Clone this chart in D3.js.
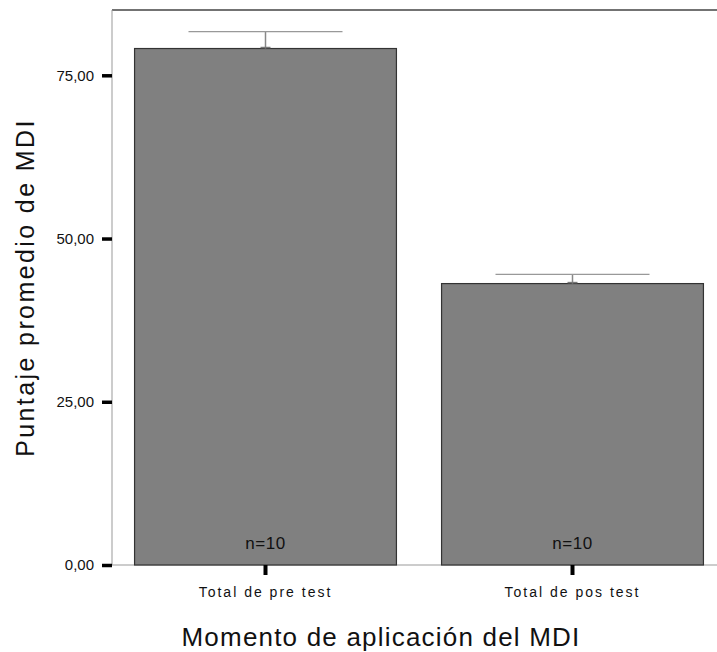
<!DOCTYPE html>
<html>
<head>
<meta charset="utf-8">
<script src="https://cdn.jsdelivr.net/npm/d3@7"></script>
<style>
  body { margin: 0; background: #fff; }
  svg { display: block; font-family: "Liberation Sans", Arial, sans-serif; }
</style>
</head>
<body>
<svg id="chart"></svg>
<script>
// datos
const categories = ['Total de pre test', 'Total de pos test'];
const means = [79.1, 43.1];
const upper = [81.7, 44.5];
const counts = [10, 10];
const yTicks = [0, 25, 50, 75];

const width = 717, height = 652;
const margin = { top: 10, right: -9, bottom: 87, left: 112 };

const svg = d3.select('#chart').attr('width', width).attr('height', height);

const x = d3.scaleBand()
  .domain(categories)
  .range([margin.left, width - margin.right])
  .paddingInner(0.147)
  .paddingOuter(0.0735);

const y = d3.scaleLinear()
  .domain([0, 85])
  .range([height - margin.bottom, margin.top]);

const y0 = y(0);

// marco
svg.append('line')
  .attr('x1', margin.left).attr('x2', width)
  .attr('y1', margin.top).attr('y2', margin.top)
  .attr('stroke', '#444').attr('stroke-width', 1.5);
svg.append('line')
  .attr('x1', margin.left).attr('x2', margin.left)
  .attr('y1', margin.top).attr('y2', y0)
  .attr('stroke', '#999').attr('stroke-width', 1);
svg.append('line')
  .attr('x1', margin.left).attr('x2', width)
  .attr('y1', y0).attr('y2', y0)
  .attr('stroke', '#999').attr('stroke-width', 1);

// barras
svg.append('g')
  .selectAll('rect')
  .data(means)
  .enter()
  .append('rect')
  .attr('x', (_, i) => x(categories[i]))
  .attr('y', d => y(d))
  .attr('width', x.bandwidth())
  .attr('height', d => y0 - y(d))
  .attr('fill', '#808080')
  .attr('stroke', '#333')
  .attr('stroke-width', 1.2);

// barras de error
const cx = i => x(categories[i]) + x.bandwidth() / 2;
const err = svg.append('g');
means.forEach((m, i) => {
  err.append('line')
    .attr('x1', cx(i)).attr('x2', cx(i))
    .attr('y1', y(m)).attr('y2', y(upper[i]))
    .attr('stroke', '#888').attr('stroke-width', 1.5);
  err.append('line')
    .attr('x1', cx(i) - 77).attr('x2', cx(i) + 77)
    .attr('y1', y(upper[i])).attr('y2', y(upper[i]))
    .attr('stroke', '#999').attr('stroke-width', 1.2);
  err.append('line')
    .attr('x1', cx(i) - 5).attr('x2', cx(i) + 5)
    .attr('y1', y(m) - 1).attr('y2', y(m) - 1)
    .attr('stroke', '#777').attr('stroke-width', 1.5);
});

// n dentro de la barra
svg.append('g')
  .selectAll('text')
  .data(counts)
  .enter()
  .append('text')
  .attr('x', (_, i) => cx(i))
  .attr('y', y0 - 16)
  .attr('text-anchor', 'middle')
  .attr('font-size', 17)
  .attr('letter-spacing', 0.5)
  .attr('fill', '#111')
  .text(d => 'n=' + d);

// eje y
const fmt = d => d3.format('.2f')(d).replace('.', ',');
const yAxis = svg.append('g')
  .attr('transform', `translate(${margin.left},0)`)
  .call(d3.axisLeft(y).tickValues(yTicks).tickFormat(fmt).tickSize(10).tickPadding(8));
yAxis.select('.domain').remove();
yAxis.selectAll('line').attr('stroke', '#000').attr('stroke-width', 3.5);
yAxis.selectAll('text').attr('font-size', 15).attr('fill', '#111')
  .attr('font-family', '"Liberation Sans", Arial, sans-serif');

// eje x
const xAxis = svg.append('g')
  .attr('transform', `translate(0,${y0})`)
  .call(d3.axisBottom(x).tickSize(10).tickPadding(12));
xAxis.select('.domain').remove();
xAxis.selectAll('line').attr('stroke', '#000').attr('stroke-width', 4);
xAxis.selectAll('text').attr('font-size', 14).attr('letter-spacing', 2).attr('fill', '#111')
  .attr('font-family', '"Liberation Sans", Arial, sans-serif');

// titulos
svg.append('text')
  .attr('transform', `translate(34,${(margin.top + y0) / 2}) rotate(-90)`)
  .attr('text-anchor', 'middle')
  .attr('font-size', 25)
  .attr('letter-spacing', 2.4)
  .attr('fill', '#111')
  .text('Puntaje promedio de MDI');

svg.append('text')
  .attr('x', 381)
  .attr('y', 646)
  .attr('text-anchor', 'middle')
  .attr('font-size', 26)
  .attr('letter-spacing', 1.2)
  .attr('fill', '#111')
  .text('Momento de aplicación del MDI');
</script>
</body>
</html>
